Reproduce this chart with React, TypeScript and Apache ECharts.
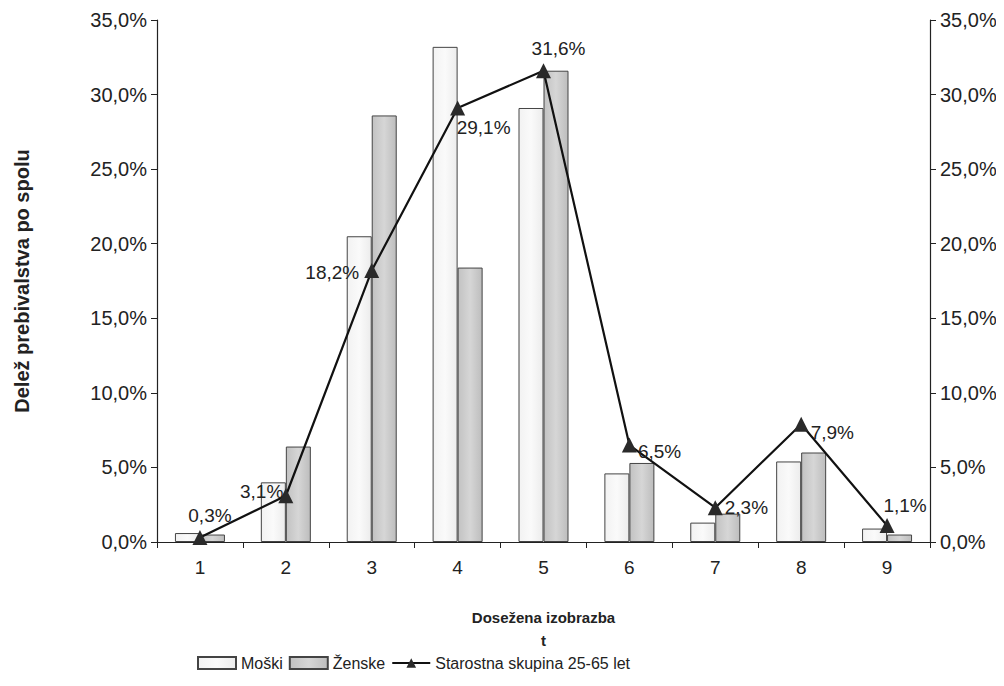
import React, { useEffect, useRef } from "react";
import * as echarts from "echarts";

const categories = ["1", "2", "3", "4", "5", "6", "7", "8", "9"];
const moski = [0.6, 4.0, 20.5, 33.2, 29.1, 4.6, 1.3, 5.4, 0.9];
const zenske = [0.5, 6.4, 28.6, 18.4, 31.6, 5.3, 1.9, 6.0, 0.5];
const skupina = [0.3, 3.1, 18.2, 29.1, 31.6, 6.5, 2.3, 7.9, 1.1];
const labelPos = ["top", "left", "left", "bottom", "top", "right", "right", "right", "top"];
const labelOffsets = [[10, 0], [10, -4], [0, 2], [26, -2], [15, 0], [-4, 6], [-3, 0], [-3, 8], [18, 2]];

const fmt = (v: number) => v.toFixed(1).replace(".", ",") + "%";
const FONT = "Liberation Sans, Arial, sans-serif";

export default function App() {
  const ref = useRef<HTMLDivElement>(null);
  useEffect(() => {
    if (!ref.current) return;
    const chart = echarts.init(ref.current, null, { renderer: "svg" });
    const yAxisBase = (pos: "left" | "right") => ({
      type: "value",
      position: pos,
      min: 0,
      max: 35,
      interval: 5,
      axisLine: { show: true, lineStyle: { color: "#222", width: 1.2 } },
      axisTick: { show: true, inside: false, length: 6, lineStyle: { color: "#222" } },
      splitLine: { show: false },
      axisLabel: {
        formatter: (v: number) => fmt(v),
        color: "#222",
        fontSize: 20,
        fontFamily: FONT,
        margin: 10,
      },
    });
    chart.setOption({
      animation: false,
      backgroundColor: "#fff",
      textStyle: { fontFamily: FONT },
      grid: { left: 149, right: 66, top: 12, bottom: 136, outerBoundsMode: "none", containLabel: false },
      legend: {
        bottom: 2,
        left: 184,
        itemGap: 6,
        itemWidth: 38,
        itemHeight: 12,
        textStyle: { fontSize: 16, color: "#222", fontFamily: FONT },
        data: [
          { name: "Moški", icon: "rect" },
          { name: "Ženske", icon: "rect" },
          { name: "Starostna skupina 25-65 let" },
        ],
      },
      xAxis: {
        type: "category",
        data: categories,
        name: "Dosežena izobrazba\nt",
        nameLocation: "middle",
        nameGap: 64,
        nameTextStyle: { fontSize: 15, fontWeight: "bold", color: "#222", fontFamily: FONT, lineHeight: 23 },
        axisLine: { lineStyle: { color: "#222", width: 1.2 } },
        axisTick: { show: true, length: 6, lineStyle: { color: "#222" } },
        axisLabel: { color: "#222", fontSize: 19, fontFamily: FONT, margin: 16 },
      },
      yAxis: [
        {
          ...yAxisBase("left"),
          name: "Delež prebivalstva po spolu",
          nameLocation: "middle",
          nameGap: 125,
          nameTextStyle: { fontSize: 20, fontWeight: "bold", color: "#222", fontFamily: FONT },
        },
        yAxisBase("right"),
      ],
      series: [
        {
          name: "Moški",
          type: "bar",
          data: moski,
          barWidth: 25,
          barGap: "0%",
          itemStyle: {
            color: new echarts.graphic.LinearGradient(0, 0, 1, 0, [
              { offset: 0, color: "#f2f2f2" },
              { offset: 0.5, color: "#fafafa" },
              { offset: 1, color: "#ececec" },
            ]),
            borderColor: "#444",
            borderWidth: 1,
          },
        },
        {
          name: "Ženske",
          type: "bar",
          data: zenske,
          barWidth: 25,
          barGap: "0%",
          itemStyle: {
            color: new echarts.graphic.LinearGradient(0, 0, 1, 0, [
              { offset: 0, color: "#c2c2c2" },
              { offset: 0.5, color: "#d6d6d6" },
              { offset: 1, color: "#bdbdbd" },
            ]),
            borderColor: "#444",
            borderWidth: 1,
          },
        },
        {
          name: "Starostna skupina 25-65 let",
          type: "line",
          yAxisIndex: 1,
          data: skupina.map((v, i) => ({
            value: v,
            label: { position: labelPos[i], offset: labelOffsets[i] },
          })),
          symbol: "triangle",
          symbolSize: 15,
          lineStyle: { color: "#111", width: 2.2 },
          itemStyle: { color: "#2a2a2a" },
          label: {
            show: true,
            formatter: (p: any) => fmt(p.value),
            color: "#222",
            fontSize: 19,
            fontFamily: FONT,
          },
          z: 5,
        },
      ],
    });
    return () => chart.dispose();
  }, []);
  return <div ref={ref} style={{ width: 988, height: 670 }} />;
}
